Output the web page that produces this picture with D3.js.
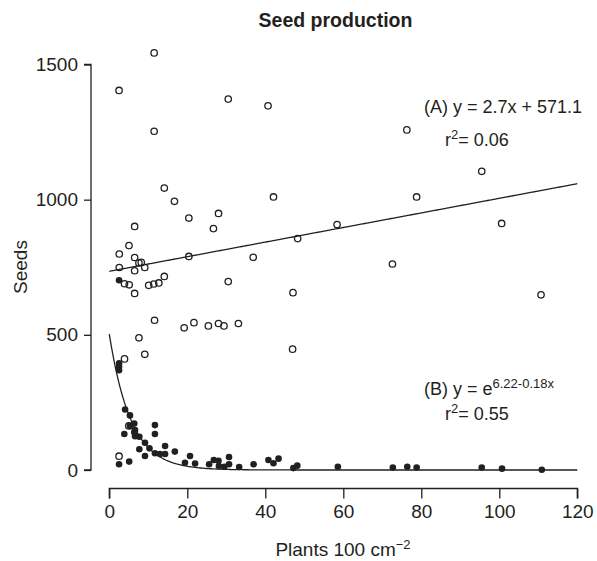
<!DOCTYPE html>
<html>
<head>
<meta charset="utf-8">
<script src="https://cdn.jsdelivr.net/npm/d3@7"></script>
<style>
  html, body { margin: 0; padding: 0; background: #fff; }
  svg { display: block; font-family: "Liberation Sans", Arial, sans-serif; }
</style>
</head>
<body>
<svg id="chart" width="597" height="561"></svg>
<script>
// ---- data ----
const seriesA_x = [2.5, 11.5, 30.5, 40.7, 11.5, 76.3, 95.5, 14.1, 16.7, 42.1, 78.8, 20.4, 28, 6.5, 26.7, 58.4, 100.6, 48.3, 5.05, 2.56, 6.5, 7.6, 8.2, 2.56, 6.5, 9.1, 20.4, 36.9, 72.6, 30.5, 3.9, 5.1, 6.5, 10.1, 11.4, 12.7, 14.1, 47.1, 110.7, 11.6, 19.2, 21.7, 25.4, 28, 29.4, 33.1, 7.6, 9.1, 3.9, 47, 5.0, 2.5];
const seriesA_y = [1404, 1543, 1372, 1347, 1253, 1258, 1105, 1043, 994, 1010, 1010, 932, 949, 901, 893, 908, 912, 856, 830, 799, 786, 766, 768, 749, 737, 749, 790, 787, 762, 697, 689, 685, 653, 683, 688, 692, 716, 656, 648, 554, 526, 545, 533, 542, 533, 542, 489, 428, 411, 447, 163, 51];
const seriesB_x = [2.5, 2.5, 2.5, 2.5, 4.05, 5.3, 6.4, 5.3, 3.85, 6.6, 6.6, 7.7, 11.7, 11.7, 9.15, 7.7, 10.3, 14.3, 11.7, 13, 14.3, 9.15, 16.8, 19.4, 20.7, 22, 2.5, 5.1, 25.6, 26.8, 28, 28.1, 29.5, 30.7, 30.7, 33.3, 37, 40.8, 42.1, 43.4, 47.2, 48.2, 58.6, 72.7, 76.4, 78.8, 95.5, 100.7, 110.9, 6.4];
const seriesB_y = [702, 395, 382, 369, 224, 202, 172, 163, 133, 148, 125, 123, 166, 133, 101, 77, 80, 89, 62, 59, 59, 52, 68, 27, 52, 24, 21, 31, 21, 37, 34, 15, 12, 48, 21, 11, 21, 37, 25, 42, 7, 16, 12, 9, 12, 9, 9, 5, 1, 140];
// fitted curves as drawn
const fitA = { slope: 2.7, intercept: 735, x0: 0, x1: 120 };
const fitB = { a: 6.22, b: 0.18, x0: 0, x1: 120 };
const xTicks = [0, 20, 40, 60, 80, 100, 120];
const yTicks = [0, 500, 1000, 1500];
const labels = {
  title: "Seed production",
  xTitle: "Plants 100 cm",
  xTitleSup: "\u22122",
  yTitle: "Seeds",
  eqA: "(A) y = 2.7x + 571.1",
  r2A: "= 0.06",
  eqB: "(B) y = e",
  eqBsup: "6.22-0.18x",
  r2B: "= 0.55"
};

// ---- layout ----
const ink = "#231f20";
const svg = d3.select("#chart");
const x = d3.scaleLinear().domain([0, 120]).range([109.3, 577.3]);
const y = d3.scaleLinear().domain([0, 1500]).range([470, 64.5]);

// title
svg.append("text").attr("x", 335.5).attr("y", 27).attr("text-anchor", "middle")
  .attr("font-size", 19.5).attr("font-weight", "bold").attr("fill", ink).text(labels.title);

// y axis
const yAxis = svg.append("g").attr("transform", "translate(91,0)")
  .call(d3.axisLeft(y).tickValues(yTicks).tickSize(7).tickPadding(6).tickFormat(d3.format("d")));
yAxis.select(".domain").attr("d", `M-7,${y(0)}H0V${y(1500)}H-7`).attr("stroke", ink).attr("stroke-width", 1.3);
yAxis.selectAll(".tick line").attr("stroke", ink).attr("stroke-width", 1.3);
yAxis.selectAll(".tick text").attr("font-size", 19).attr("fill", ink)
  .attr("font-family", "Liberation Sans, Arial, sans-serif");

// x axis
const xAxis = svg.append("g").attr("transform", "translate(0,488.5)")
  .call(d3.axisBottom(x).tickValues(xTicks).tickSize(10).tickPadding(6).tickFormat(d3.format("d")));
xAxis.select(".domain").attr("d", `M${x(0)},10V0H${x(120)}V10`).attr("stroke", ink).attr("stroke-width", 1.3);
xAxis.selectAll(".tick line").attr("stroke", ink).attr("stroke-width", 1.3);
xAxis.selectAll(".tick text").attr("font-size", 19).attr("fill", ink)
  .attr("font-family", "Liberation Sans, Arial, sans-serif");

// axis titles
const xt = svg.append("text").attr("x", 343).attr("y", 556).attr("text-anchor", "middle")
  .attr("font-size", 19).attr("fill", ink);
xt.append("tspan").text(labels.xTitle);
xt.append("tspan").attr("dy", -7).attr("font-size", 13).text(labels.xTitleSup);

svg.append("text").attr("transform", `translate(27,267) rotate(-90)`).attr("text-anchor", "middle")
  .attr("font-size", 19).attr("fill", ink).text(labels.yTitle);

// fit lines
const plot = svg.append("g");
const nSamp = 240;
const xsA = d3.range(nSamp + 1).map(i => fitA.x0 + (fitA.x1 - fitA.x0) * i / nSamp);
const line = d3.line().x(d => x(d[0])).y(d => y(d[1]));
plot.append("path").datum(xsA.map(v => [v, fitA.slope * v + fitA.intercept]))
  .attr("d", line).attr("fill", "none").attr("stroke", ink).attr("stroke-width", 1.3);

// open circles (A)
plot.selectAll("circle.a").data(seriesA_x.map((v, i) => [v, seriesA_y[i]])).join("circle")
  .attr("class", "a").attr("cx", d => x(d[0])).attr("cy", d => y(d[1])).attr("r", 3.2)
  .attr("fill", "none").attr("stroke", ink).attr("stroke-width", 1.3);

const xsB = d3.range(nSamp + 1).map(i => fitB.x0 + (fitB.x1 - fitB.x0) * i / nSamp);
plot.append("path").datum(xsB.map(v => [v, Math.exp(fitB.a - fitB.b * v)]))
  .attr("d", line).attr("fill", "none").attr("stroke", ink).attr("stroke-width", 1.3);

// filled circles (B)
plot.selectAll("circle.b").data(seriesB_x.map((v, i) => [v, seriesB_y[i]])).join("circle")
  .attr("class", "b").attr("cx", d => x(d[0])).attr("cy", d => y(d[1])).attr("r", 3.3)
  .attr("fill", ink).attr("stroke", "none");

// annotations
function eq(xp, yp, main, sup, rest) {
  const t = svg.append("text").attr("x", xp).attr("y", yp).attr("font-size", 18).attr("fill", ink);
  t.append("tspan").text(main);
  if (sup) t.append("tspan").attr("dy", -7).attr("font-size", 13).text(sup);
  if (rest) t.append("tspan").attr("dy", 7).text(rest);
  return t;
}
eq(424, 113, labels.eqA);
eq(445, 146, "r", "2", labels.r2A);
eq(424, 395, labels.eqB, labels.eqBsup);
eq(445, 420, "r", "2", labels.r2B);
</script>
</body>
</html>
